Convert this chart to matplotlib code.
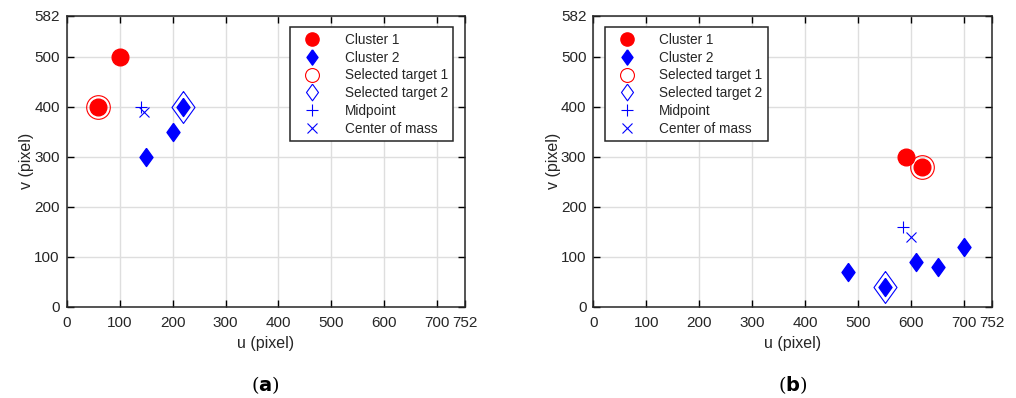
import numpy as np
import matplotlib
matplotlib.use("Agg")
import matplotlib.pyplot as plt

plt.rcParams['font.family'] = ['Liberation Sans', 'DejaVu Sans']

# Panel (a)
a_cluster1_u = [100, 60]
a_cluster1_v = [500, 400]
a_cluster2_u = [150, 200, 220]
a_cluster2_v = [300, 350, 400]
a_target1 = (60, 400)
a_target2 = (220, 400)
a_midpoint = (140, 400)
a_center = (146, 390)

# Panel (b)
b_cluster1_u = [590, 620]
b_cluster1_v = [300, 280]
b_cluster2_u = [480, 550, 610, 650, 700]
b_cluster2_v = [70, 40, 90, 80, 120]
b_target1 = (620, 280)
b_target2 = (550, 40)
b_midpoint = (585, 160)
b_center = (600, 140)

x_ticks = [0, 100, 200, 300, 400, 500, 600, 700, 752]
y_ticks = [0, 100, 200, 300, 400, 500, 582]

# MATLAB-style diamond (taller than wide)
diamond = [(0, 1), (0.72, 0), (0, -1), (-0.72, 0), (0, 1)]

# marker sizes used inside the legend box
legend_sizes = [9.5, 11, 10, 12, 9, 7]


def draw_panel(ax, c1u, c1v, c2u, c2v, t1, t2, mid, com, legend_loc, label):
    ax.plot(c1u, c1v, 'o', color='red', markersize=12, linestyle='none',
            label='Cluster 1', zorder=3)
    ax.plot(c2u, c2v, marker=diamond, color='blue', markersize=13,
            linestyle='none', label='Cluster 2', zorder=3)
    ax.plot(*t1, 'o', mfc='none', mec='red', markersize=17, mew=0.8,
            linestyle='none', label='Selected target 1', zorder=3)
    ax.plot(*t2, marker=diamond, mfc='none', mec='blue', markersize=23,
            mew=0.8, linestyle='none', label='Selected target 2', zorder=3)
    ax.plot(*mid, '+', color='blue', markersize=9, mew=0.8,
            linestyle='none', label='Midpoint', zorder=3)
    ax.plot(*com, 'x', color='blue', markersize=7, mew=0.8,
            linestyle='none', label='Center of mass', zorder=3)

    ax.set_xlim(0, 752)
    ax.set_ylim(0, 582)
    ax.set_xticks(x_ticks)
    ax.set_yticks(y_ticks)
    ax.grid(True, color='#dedede', linewidth=1)
    ax.set_axisbelow(True)
    ax.tick_params(direction='in', length=5, width=1, top=True, right=True,
                   labelsize=11, colors='black', labelcolor='#262626')
    ax.tick_params(axis='x', pad=7)
    ax.tick_params(axis='y', pad=5)
    for s in ax.spines.values():
        s.set_linewidth(1.1)
        s.set_color('#262626')
    ax.set_xlabel('u (pixel)', fontsize=11.5, color='#262626', labelpad=4)
    ax.set_ylabel('v (pixel)', fontsize=11.5, color='#262626', labelpad=0)

    leg = ax.legend(loc=legend_loc, fontsize=9.8, frameon=True, fancybox=False,
                    framealpha=1, edgecolor='#262626', borderaxespad=0.85,
                    handlelength=2.4, handletextpad=1.2, labelspacing=0.28,
                    borderpad=0.4)
    leg.get_frame().set_linewidth(1.1)
    for h, ms in zip(leg.legend_handles, legend_sizes):
        h.set_markersize(ms)
    for txt in leg.get_texts():
        txt.set_color('#262626')

    ax.text(0.5, -0.27, label, transform=ax.transAxes, ha='center', va='center',
            fontsize=14, family='DejaVu Serif')


fig = plt.figure(figsize=(10.16, 3.98), dpi=100)
ax1 = fig.add_axes([0.0656, 0.2294, 0.392, 0.731])
ax2 = fig.add_axes([0.584, 0.2294, 0.392, 0.731])

draw_panel(ax1, a_cluster1_u, a_cluster1_v, a_cluster2_u, a_cluster2_v,
           a_target1, a_target2, a_midpoint, a_center, 'upper right',
           r'($\mathbf{a}$)')
draw_panel(ax2, b_cluster1_u, b_cluster1_v, b_cluster2_u, b_cluster2_v,
           b_target1, b_target2, b_midpoint, b_center, 'upper left',
           r'($\mathbf{b}$)')

fig.savefig('out.png', dpi=100)
